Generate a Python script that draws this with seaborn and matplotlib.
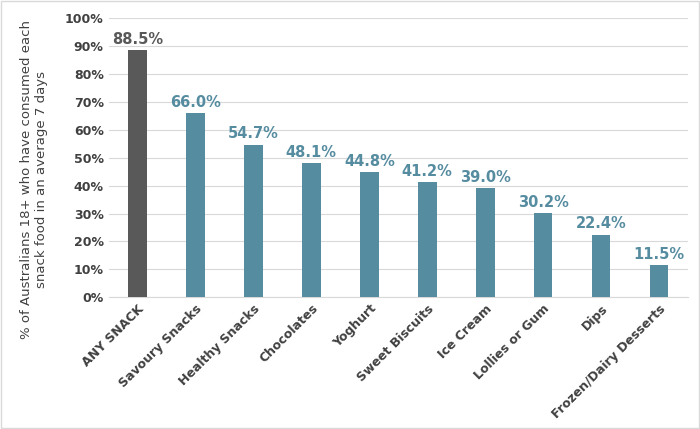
import matplotlib
matplotlib.use("Agg")
import matplotlib.pyplot as plt
import seaborn as sns
import pandas as pd
from matplotlib.ticker import PercentFormatter

categories = ["ANY SNACK", "Savoury Snacks", "Healthy Snacks", "Chocolates", "Yoghurt",
              "Sweet Biscuits", "Ice Cream", "Lollies or Gum", "Dips", "Frozen/Dairy Desserts"]
values = [88.5, 66.0, 54.7, 48.1, 44.8, 41.2, 39.0, 30.2, 22.4, 11.5]

grey = "#595959"
teal = "#568CA0"
colors = [grey] + [teal] * (len(values) - 1)

df = pd.DataFrame({"cat": categories, "val": values})

fig = plt.figure(figsize=(7, 4.29), dpi=100)
ax = fig.add_axes([0.155, 0.307, 0.828, 0.651])
sns.barplot(data=df, x="cat", y="val", hue="cat", palette=colors, legend=False,
            width=0.32, saturation=1, ax=ax, zorder=3)

for i, v in enumerate(values):
    ax.text(i, v + 1.2, f"{v:.1f}%", ha="center", va="bottom", fontsize=10.5,
            fontweight="bold", color=colors[i])

ax.set_ylim(0, 100)
ax.set_yticks(range(0, 101, 10))
ax.yaxis.set_major_formatter(PercentFormatter(decimals=0))
ax.grid(axis="y", color="#d9d9d9", linewidth=0.8, zorder=0)
ax.set_xlabel("")
ax.set_ylabel("% of Australians 18+ who have consumed each\nsnack food in an average 7 days",
              fontsize=9.5, color="#404040", labelpad=6)
ax.yaxis.set_label_coords(-0.105, 0.42)
ax.tick_params(axis="both", length=0, labelsize=9, colors="#404040")
for lab in ax.get_xticklabels() + ax.get_yticklabels():
    lab.set_fontweight("bold")
plt.setp(ax.get_xticklabels(), rotation=45, ha="right", rotation_mode="anchor")
for s in ["top", "right", "left"]:
    ax.spines[s].set_visible(False)
ax.spines["bottom"].set_color("#d9d9d9")

fig.patches.append(plt.Rectangle((0.002, 0.002), 0.996, 0.996, transform=fig.transFigure,
                                 fill=False, edgecolor="#d9d9d9", linewidth=1))
fig.savefig("out.png", dpi=100)
